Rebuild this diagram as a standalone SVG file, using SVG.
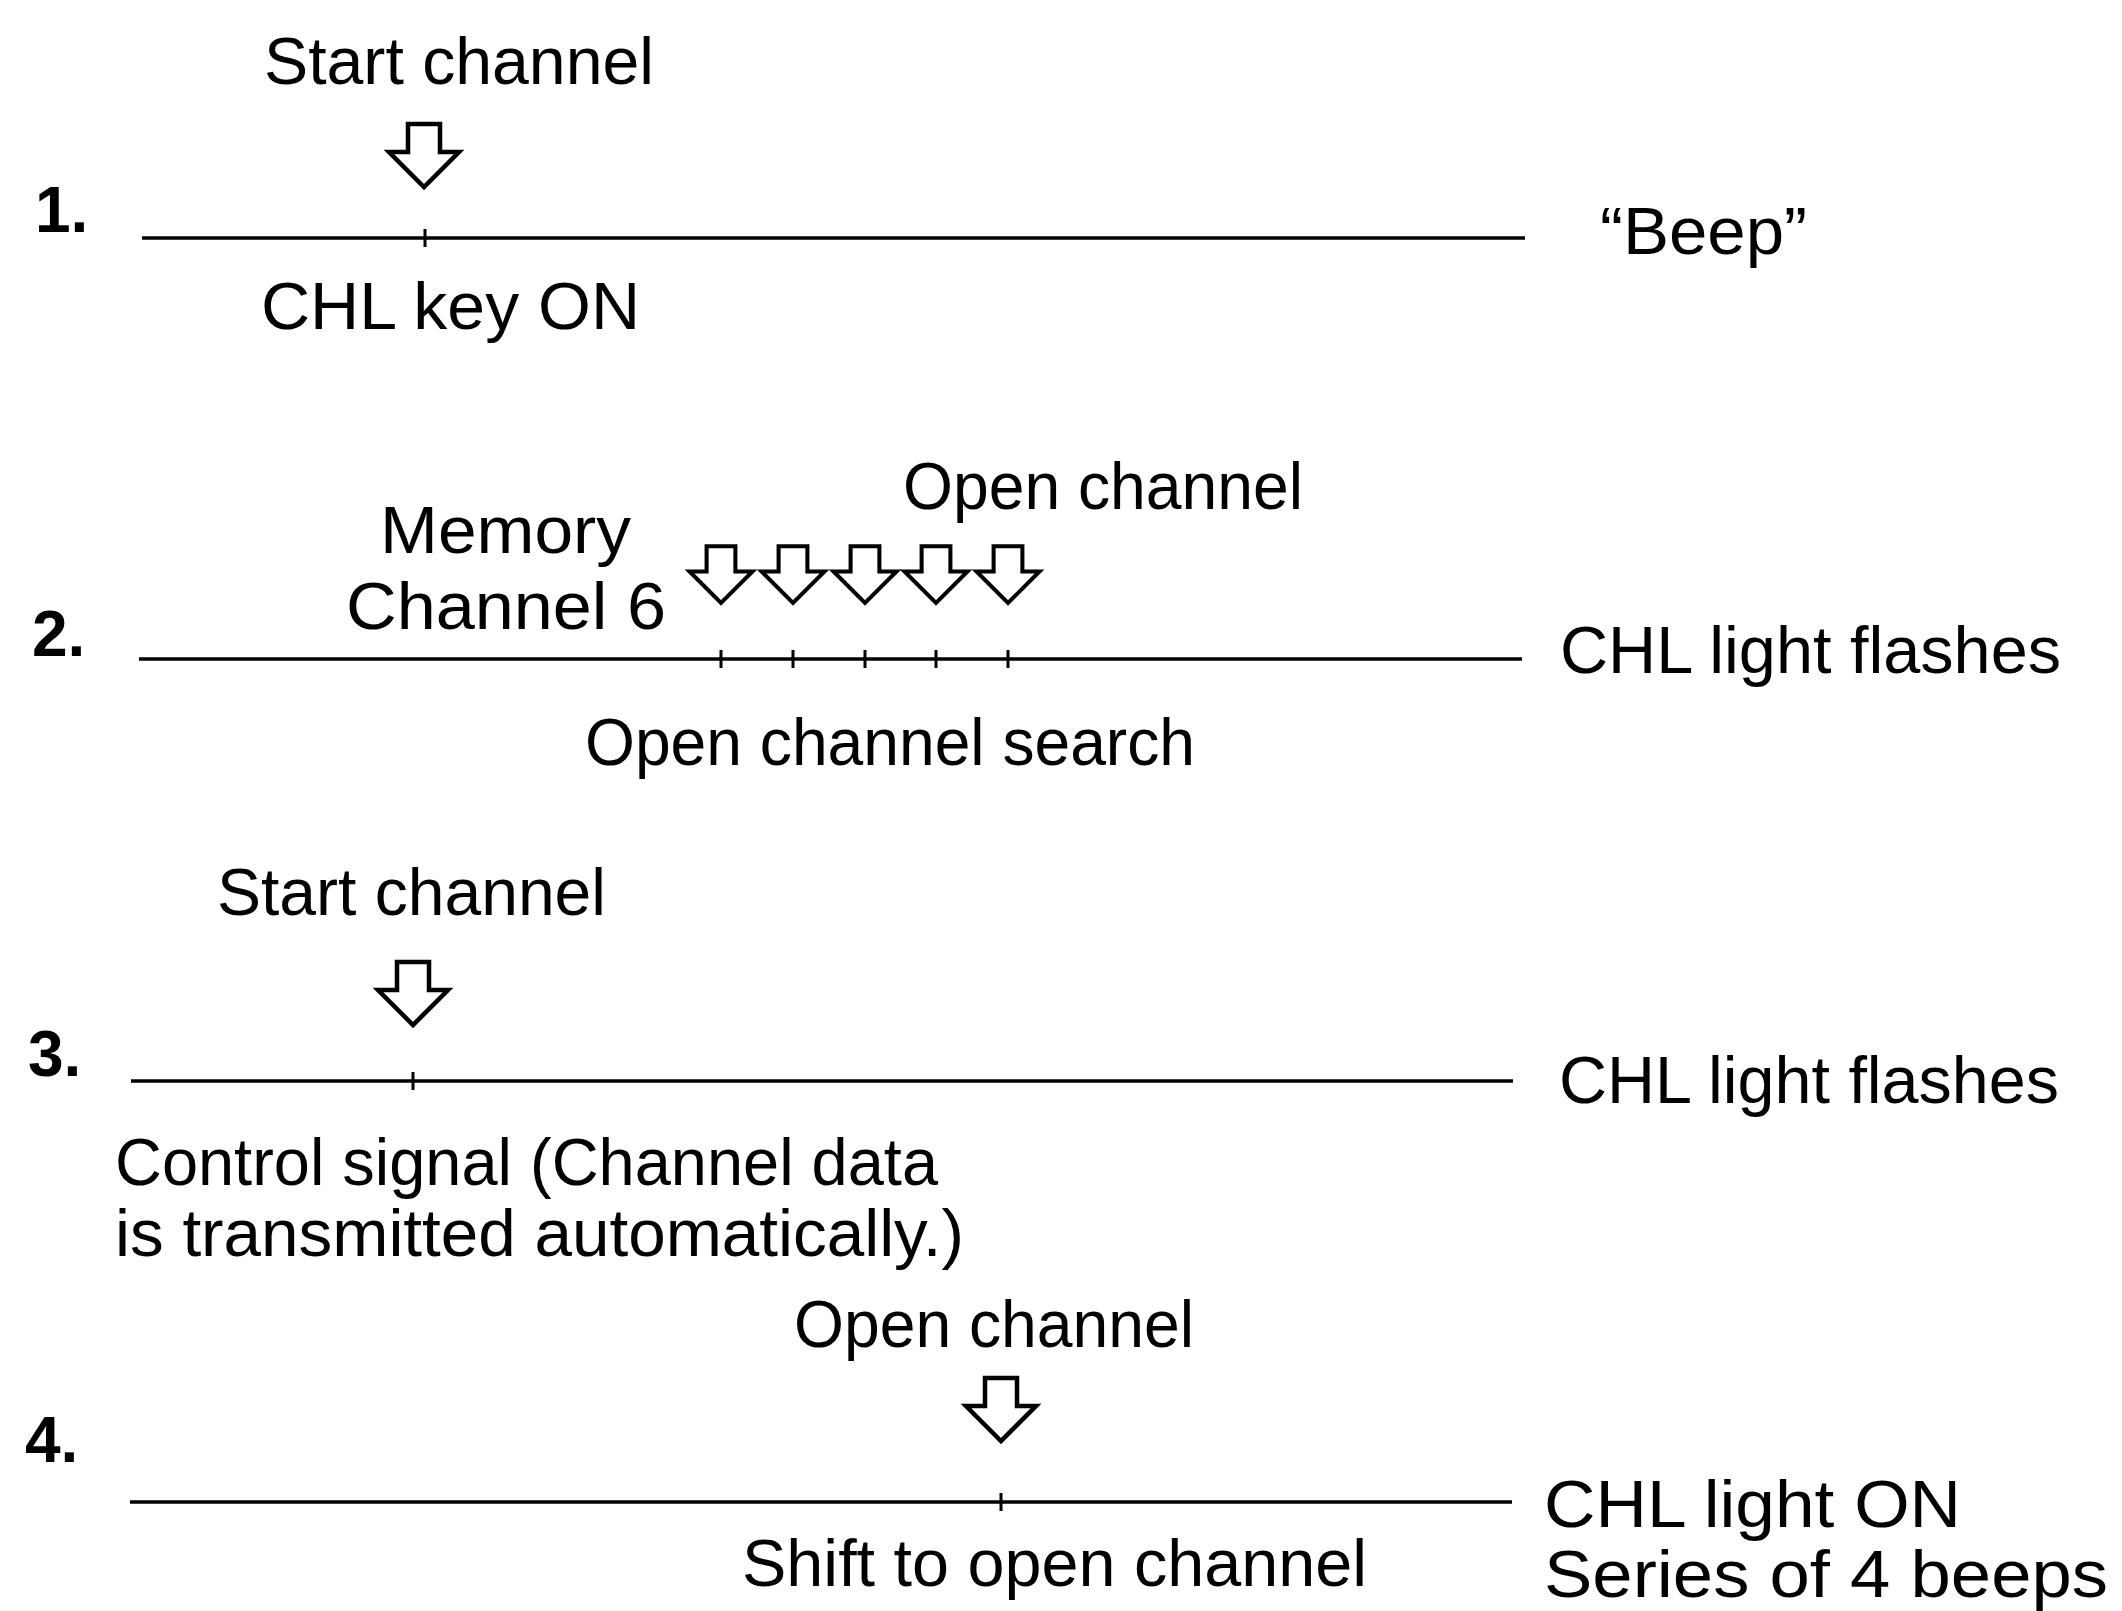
<svg xmlns="http://www.w3.org/2000/svg" width="2122" height="1611" viewBox="0 0 2122 1611">
<style>
.t{font-family:"Liberation Sans",Arial,sans-serif;font-size:66px;fill:#000}
.n{font-family:"Liberation Sans",Arial,sans-serif;font-size:64px;font-weight:bold;fill:#000}
.ln{stroke:#000;stroke-width:3.5;fill:none}
.tk{stroke:#000;stroke-width:3;fill:none}
.ar{fill:#fff;stroke:#000;stroke-width:4.5;stroke-linejoin:miter}
</style>
<defs>
<path id="arrow" class="ar" d="M -16 -63 H 16 V -35 H 35 L 0 0 L -35 -35 H -16 Z"/>
</defs>
<rect width="2122" height="1611" fill="#fff"/>

<g id="connectors">
  <line class="ln" x1="142" y1="238" x2="1525" y2="238"/>
  <line class="tk" x1="425" y1="229" x2="425" y2="247"/>
  <line class="ln" x1="139" y1="659" x2="1522" y2="659"/>
  <line class="tk" x1="721" y1="650" x2="721" y2="668"/>
  <line class="tk" x1="793" y1="650" x2="793" y2="668"/>
  <line class="tk" x1="865" y1="650" x2="865" y2="668"/>
  <line class="tk" x1="936" y1="650" x2="936" y2="668"/>
  <line class="tk" x1="1008" y1="650" x2="1008" y2="668"/>
  <line class="ln" x1="131" y1="1081" x2="1513" y2="1081"/>
  <line class="tk" x1="413" y1="1072" x2="413" y2="1090"/>
  <line class="ln" x1="130" y1="1502" x2="1512" y2="1502"/>
  <line class="tk" x1="1001" y1="1493" x2="1001" y2="1511"/>
  <use href="#arrow" transform="translate(424,187)"/>
  <use href="#arrow" transform="translate(721,603) scale(0.9)"/>
  <use href="#arrow" transform="translate(793,603) scale(0.9)"/>
  <use href="#arrow" transform="translate(865,603) scale(0.9)"/>
  <use href="#arrow" transform="translate(936,603) scale(0.9)"/>
  <use href="#arrow" transform="translate(1008,603) scale(0.9)"/>
  <use href="#arrow" transform="translate(413,1025)"/>
  <use href="#arrow" transform="translate(1001,1441)"/>
</g>

<g id="step1">
  <text class="n" x="35" y="232">1.</text>
  <g id="s1-start"><text class="t" x="264" y="84" textLength="390" lengthAdjust="spacingAndGlyphs">Start channel</text></g>
  <g id="s1-key"><text class="t" x="261" y="329" textLength="379" lengthAdjust="spacingAndGlyphs">CHL key ON</text></g>
  <g id="s1-beep"><text class="t" x="1600" y="254" textLength="207" lengthAdjust="spacingAndGlyphs">“Beep”</text></g>
</g>

<g id="step2">
  <text class="n" x="32" y="656">2.</text>
  <g id="s2-open"><text class="t" x="903" y="509" textLength="400" lengthAdjust="spacingAndGlyphs">Open channel</text></g>
  <g id="s2-memory">
    <text class="t" x="380" y="553" textLength="251" lengthAdjust="spacingAndGlyphs">Memory</text>
    <text class="t" x="346" y="629" textLength="320" lengthAdjust="spacingAndGlyphs">Channel 6</text>
  </g>
  <g id="s2-search"><text class="t" x="585" y="765" textLength="610" lengthAdjust="spacingAndGlyphs">Open channel search</text></g>
  <g id="s2-flash"><text class="t" x="1560" y="673" textLength="501" lengthAdjust="spacingAndGlyphs">CHL light flashes</text></g>
</g>

<g id="step3">
  <text class="n" x="28" y="1076">3.</text>
  <g id="s3-start"><text class="t" x="217" y="915" textLength="389" lengthAdjust="spacingAndGlyphs">Start channel</text></g>
  <g id="s3-control">
    <text class="t" x="115" y="1185" textLength="823" lengthAdjust="spacingAndGlyphs">Control signal (Channel data</text>
    <text class="t" x="115" y="1256" textLength="849" lengthAdjust="spacingAndGlyphs">is transmitted automatically.)</text>
  </g>
  <g id="s3-flash"><text class="t" x="1559" y="1103" textLength="500" lengthAdjust="spacingAndGlyphs">CHL light flashes</text></g>
</g>

<g id="step4">
  <text class="n" x="25" y="1462">4.</text>
  <g id="s4-open"><text class="t" x="794" y="1347" textLength="400" lengthAdjust="spacingAndGlyphs">Open channel</text></g>
  <g id="s4-shift"><text class="t" x="742" y="1586" textLength="625" lengthAdjust="spacingAndGlyphs">Shift to open channel</text></g>
  <g id="s4-result">
    <text class="t" x="1544" y="1527" textLength="417" lengthAdjust="spacingAndGlyphs">CHL light ON</text>
    <text class="t" x="1544" y="1597" textLength="564" lengthAdjust="spacingAndGlyphs">Series of 4 beeps</text>
  </g>
</g>
</svg>
